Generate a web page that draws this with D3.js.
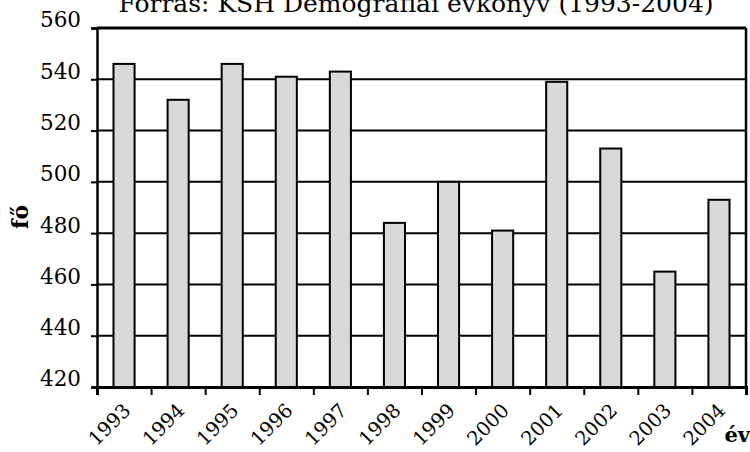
<!DOCTYPE html>
<html>
<head>
<meta charset="utf-8">
<script src="https://cdn.jsdelivr.net/npm/d3@7"></script>
<style>
  body { margin: 0; background: #fff; }
  text { font-family: "DejaVu Serif", serif; fill: #000; }
</style>
</head>
<body>
<svg></svg>
<script>
var years = ["1993","1994","1995","1996","1997","1998","1999","2000","2001","2002","2003","2004"];
var values = [546, 532, 546, 541, 543, 484, 500, 481, 539, 513, 465, 493];
var yTicks = [420, 440, 460, 480, 500, 520, 540, 560];
var title = "Forrás: KSH Demográfiai évkönyv (1993-2004)";

var screen = { width: 750, height: 452 };
var margins = { top: 28, bottom: 65, left: 97, right: 4 };
var width = screen.width - margins.left - margins.right;
var height = screen.height - margins.top - margins.bottom;

var svg = d3.select("svg")
            .attr("width", screen.width)
            .attr("height", screen.height);

var xScale = d3.scaleBand()
               .domain(years)
               .range([0, width])
               .paddingInner(0.61)
               .paddingOuter(0.305);
var xBound = d3.scaleLinear()
               .domain([0, years.length])
               .range([0, width]);
var yScale = d3.scaleLinear()
               .domain([420, 560])
               .range([height, 0]);

var plot = svg.append("g")
              .attr("transform", "translate(" + margins.left + "," + margins.top + ")");

// grid lines
plot.selectAll("line.grid")
    .data(yTicks)
    .enter()
    .append("line")
    .classed("grid", true)
    .attr("x1", 0)
    .attr("x2", width)
    .attr("y1", function(d) { return yScale(d); })
    .attr("y2", function(d) { return yScale(d); })
    .attr("stroke", "#000")
    .attr("stroke-width", 2);

// bars
plot.selectAll("rect.bar")
    .data(values)
    .enter()
    .append("rect")
    .classed("bar", true)
    .attr("x", function(d, i) { return xScale(years[i]); })
    .attr("y", function(d) { return yScale(d); })
    .attr("width", xScale.bandwidth())
    .attr("height", function(d) { return height - yScale(d); })
    .attr("fill", "#d9d9d9")
    .attr("stroke", "#000")
    .attr("stroke-width", 2);

// frame
plot.append("line").attr("x1", 0).attr("x2", width).attr("y1", 0).attr("y2", 0)
    .attr("stroke", "#000").attr("stroke-width", 3);
plot.append("line").attr("x1", width).attr("x2", width).attr("y1", 0).attr("y2", height)
    .attr("stroke", "#000").attr("stroke-width", 2.5);

// y axis
var yAxis = d3.axisLeft(yScale)
              .tickValues(yTicks)
              .tickSize(6)
              .tickPadding(10)
              .tickFormat(d3.format("d"));
var yG = plot.append("g").call(yAxis);
yG.select(".domain").attr("stroke-width", 2.5);
yG.selectAll(".tick line").attr("stroke-width", 2);
yG.selectAll(".tick text")
  .attr("font-size", 21.5)
  .attr("font-family", "DejaVu Serif")
  .attr("dy", "-0.05em");

// x axis: ticks on category boundaries
var xAxis = d3.axisBottom(xBound)
              .tickValues(d3.range(years.length + 1))
              .tickSize(8)
              .tickFormat("");
var xG = plot.append("g")
             .attr("transform", "translate(0," + height + ")")
             .call(xAxis);
xG.select(".domain").attr("stroke-width", 3);
xG.selectAll(".tick line").attr("stroke-width", 2);

plot.selectAll("text.xlab")
    .data(years)
    .enter()
    .append("text")
    .classed("xlab", true)
    .attr("transform", function(d) {
      return "translate(" + (xScale(d) + xScale.bandwidth() / 2 - 2) + "," + (height + 15) + ") rotate(-45)";
    })
    .attr("text-anchor", "end")
    .attr("dy", "0.7em")
    .attr("font-size", 19.5)
    .text(function(d) { return d; });

// title
svg.append("text")
   .attr("x", 416)
   .attr("y", 12)
   .attr("text-anchor", "middle")
   .attr("font-size", 25)
   .text(title);

// axis names
svg.append("text")
   .attr("x", 750)
   .attr("y", 442)
   .attr("text-anchor", "end")
   .attr("font-size", 21)
   .attr("font-weight", "bold")
   .text("év");
svg.append("text")
   .attr("transform", "translate(28,217) rotate(-90)")
   .attr("text-anchor", "middle")
   .attr("font-size", 22)
   .attr("font-weight", "bold")
   .text("fő");
</script>
</body>
</html>
